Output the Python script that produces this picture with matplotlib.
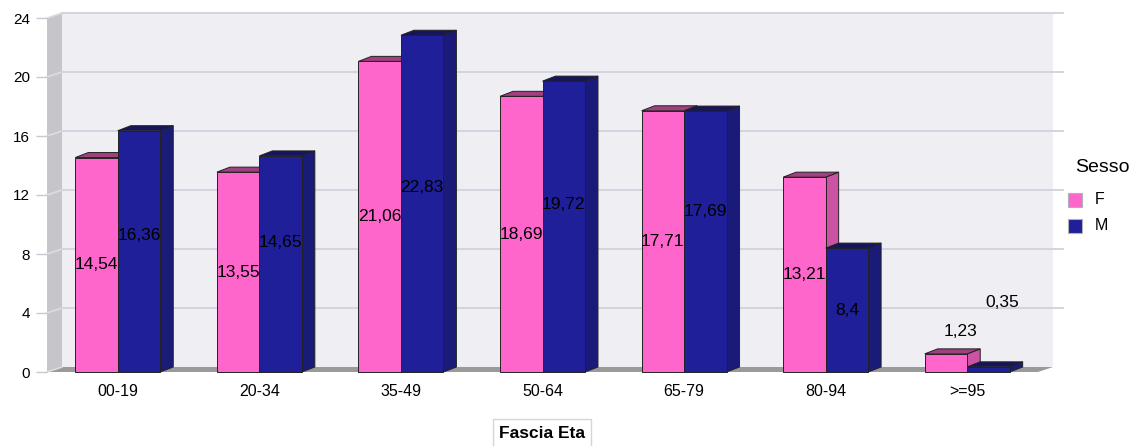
import matplotlib
matplotlib.use("Agg")
from matplotlib import pyplot as plt
from matplotlib.patches import Polygon, Rectangle

plt.rcParams['font.family'] = ['Liberation Sans', 'DejaVu Sans']

# percentuali per fascia di eta e sesso
fasce = ['00-19', '20-34', '35-49', '50-64', '65-79', '80-94', '>=95']
femmine = [14.54, 13.55, 21.06, 18.69, 17.71, 13.21, 1.23]
maschi = [16.36, 14.65, 22.83, 19.72, 17.69, 8.4, 0.35]
y_ticks = [0, 4, 8, 12, 16, 20, 24]

W, H = 1136, 446
fig = plt.figure(figsize=(W / 100, H / 100), dpi=100)
# area frontale del grafico in pixel: x 47..1038, y 18..372
ax = fig.add_axes([47 / W, (H - 372) / H, 991 / W, 354 / H])
ax.set_xlim(0, 7)
ax.set_ylim(0, 24)
for s in ax.spines.values():
    s.set_visible(False)
ax.patch.set_visible(False)

px_x = 991 / 7
px_y = 354 / 24
wdx, wdy = 15 / px_x, 5 / px_y      # profondita pareti
bdx, bdy = 13 / px_x, 5 / px_y      # profondita barre
bw = 0.3

# pareti
ax.add_patch(Rectangle((wdx, wdy), 7, 24, facecolor='#eeeef3', edgecolor='none', zorder=0, clip_on=False))
ax.add_patch(Polygon([(0, 0), (wdx, wdy), (wdx, 24 + wdy), (0, 24)], closed=True,
                     facecolor='#c6c6ca', edgecolor='none', zorder=0.5, clip_on=False))
ax.add_patch(Polygon([(0, 0), (7, 0), (7 + wdx, wdy), (wdx, wdy)], closed=True,
                     facecolor='#9a9a9a', edgecolor='none', zorder=0.5, clip_on=False))

# griglia
for t in y_ticks:
    ax.plot([0, wdx], [t, t + wdy], color='#dcdce4', lw=1.2, zorder=0.6, clip_on=False)
    if t > 0:
        ax.plot([wdx, 7 + wdx + 0.07], [t + wdy, t + wdy], color='#d4d4e0', lw=1.4, zorder=0.6, clip_on=False)


def bar3d(x0, v, front, top, side):
    x1 = x0 + bw
    ax.add_patch(Polygon([(x1, 0), (x1 + bdx, bdy), (x1 + bdx, v + bdy), (x1, v)], closed=True,
                         facecolor=side, edgecolor='#222222', lw=0.7, zorder=2, clip_on=False))
    ax.add_patch(Polygon([(x0, v), (x1, v), (x1 + bdx, v + bdy), (x0 + bdx, v + bdy)], closed=True,
                         facecolor=top, edgecolor='#222222', lw=0.7, zorder=2, clip_on=False))
    ax.add_patch(Rectangle((x0, 0), bw, v, facecolor=front, edgecolor='#222222', lw=0.7,
                           zorder=2, clip_on=False))


def label_pos(v):
    # barre basse: etichetta sopra la barra
    if v < 2.5:
        return v + 1.5, 0.1
    return v / 2, 0


for i, (f, m) in enumerate(zip(femmine, maschi)):
    c = i + 0.5
    bar3d(c - bw, f, '#ff66cc', '#a0407e', '#cc52a3')
    bar3d(c, m, '#1f1f99', '#15155e', '#1a1a78')

    fy, fsh = label_pos(f)
    my, msh = label_pos(m)
    if abs(my - fy) < 2:
        my = fy + 2
    ax.text(c - bw / 2 + fsh, fy, str(f).replace('.', ','), ha='center', va='center',
            fontsize=12.5, color='black', zorder=5)
    ax.text(c + bw / 2 + msh, my, str(m).replace('.', ','), ha='center', va='center',
            fontsize=12.5, color='black', zorder=5)

ax.set_yticks(y_ticks)
ax.set_yticklabels([str(t) for t in y_ticks])
ax.set_xticks([i + 0.5 for i in range(len(fasce))])
ax.set_xticklabels(fasce)
ax.tick_params(axis='y', length=8, width=1, color='#c8c8d4', pad=4, labelsize=11)
ax.tick_params(axis='x', length=0, pad=9, labelsize=11.5)

# titolo asse x in riquadro
fig.text(542 / W, 1 - 433 / H, 'Fascia Eta', ha='center', va='center', fontsize=12.5,
         fontweight='bold', bbox=dict(boxstyle='square,pad=0.35', facecolor='white',
                                      edgecolor='#d4d4dc', lw=1))

# legenda
fig.text(1075 / W, 1 - 168 / H, 'Sesso', ha='left', va='center', fontsize=14)
for yy, lab, col in [(200, 'F', '#ff66cc'), (226, 'M', '#1f1f99')]:
    fig.add_artist(Rectangle((1068 / W, 1 - (yy + 7) / H), 14 / W, 14 / H, facecolor=col,
                             edgecolor='#b0b0b8', lw=0.8, transform=fig.transFigure))
    fig.text(1095 / W, 1 - yy / H, lab, ha='left', va='center', fontsize=11.5)

fig.savefig('out.png', dpi=100)
